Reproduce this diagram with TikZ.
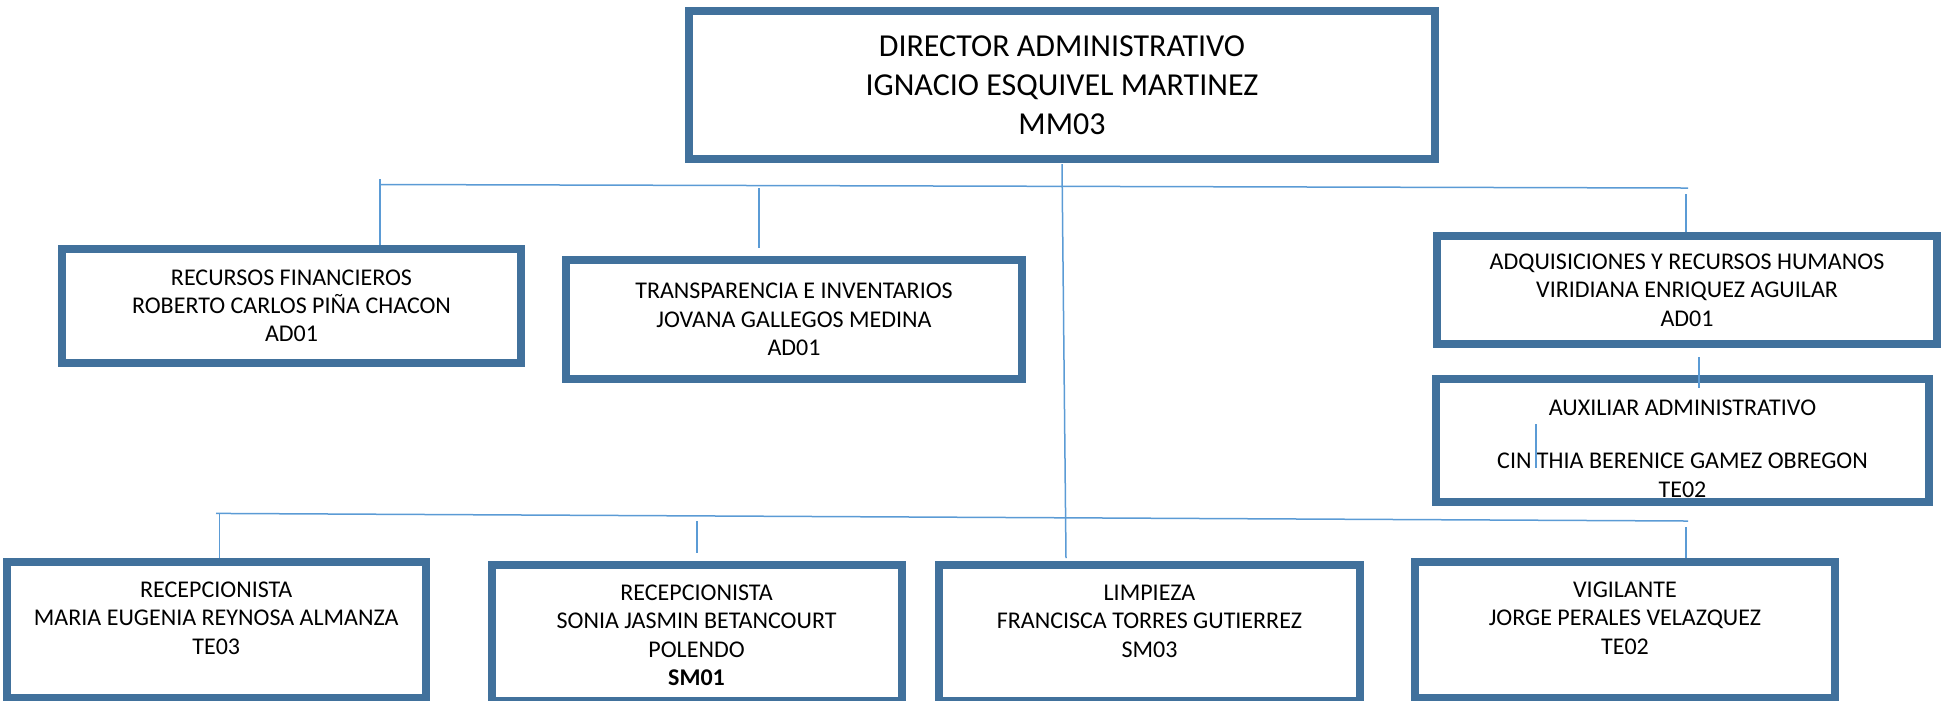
\documentclass[tikz,border=0pt]{standalone}
\usepackage{fontspec}
\setmainfont{Carlito}
\usetikzlibrary{positioning,calc}
\definecolor{boxblue}{HTML}{41719C}
\definecolor{linkblue}{HTML}{5B9BD5}
\tikzset{
  box/.style={draw=boxblue,line width=0.08cm,inner sep=0pt},
  txt/.style={align=center,inner sep=0pt,font=\fontsize{6.83}{8.1}\selectfont},
  bigtxt/.style={align=center,inner sep=0pt,font=\fontsize{9.1}{11.1}\selectfont},
  link/.style={draw=linkblue,line width=0.015cm},
}
\begin{document}
\begin{tikzpicture}
\useasboundingbox (0,0) rectangle (19.45,-7.00);

% boxes
\node[box,minimum width=7.46cm,minimum height=1.48cm] (dir) at (10.62,-0.85) {};
\node[box,minimum width=4.59cm,minimum height=1.144cm] (rf) at (2.915,-3.058) {};
\node[box,minimum width=4.56cm,minimum height=1.19cm] (ti) at (7.94,-3.195) {};
\node[box,minimum width=5.00cm,minimum height=1.08cm] (adq) at (16.87,-2.90) {};
\node[box,minimum width=4.93cm,minimum height=1.23cm] (aux) at (16.825,-4.405) {};
\node[box,minimum width=4.195cm,minimum height=1.36cm] (rec1) at (2.1625,-6.30) {};
\node[box,minimum width=4.10cm,minimum height=1.36cm] (rec2) at (6.9655,-6.33) {};
\node[box,minimum width=4.21cm,minimum height=1.36cm] (lim) at (11.495,-6.33) {};
\node[box,minimum width=4.20cm,minimum height=1.36cm] (vig) at (16.25,-6.30) {};

% texts
\node[bigtxt] (dirt) at (dir.center) {DIRECTOR ADMINISTRATIVO\\IGNACIO ESQUIVEL MARTINEZ\\MM03};
\node[txt] (rft) at (rf.center) {RECURSOS FINANCIEROS\\ROBERTO CARLOS PIÑA CHACON\\AD01};
\node[txt] (tit) at (ti.center) {TRANSPARENCIA E INVENTARIOS\\JOVANA GALLEGOS MEDINA\\AD01};
\node[txt] (adqt) at (adq.center) {ADQUISICIONES Y RECURSOS HUMANOS\\VIRIDIANA ENRIQUEZ AGUILAR\\AD01};
\node[txt,below=0.24cm of aux.north] (auxt) {AUXILIAR ADMINISTRATIVO\\[0.25cm]CIN THIA BERENICE GAMEZ OBREGON\\TE02};
\node[txt,below=0.23cm of rec1.north] (rec1t) {RECEPCIONISTA\\MARIA EUGENIA REYNOSA ALMANZA\\TE03};
\node[txt,below=0.23cm of rec2.north] (rec2t) {RECEPCIONISTA\\SONIA JASMIN BETANCOURT\\POLENDO\\\textbf{SM01}};
\node[txt,below=0.23cm of lim.north] (limt) {LIMPIEZA\\FRANCISCA TORRES GUTIERREZ\\SM03};
\node[txt,below=0.23cm of vig.north] (vigt) {VIGILANTE\\JORGE PERALES VELAZQUEZ\\TE02};

% upper bus
\coordinate (upw) at (3.80,-1.845);
\coordinate (upe) at (16.88,-1.88);
\coordinate (uptick) at (3.80,-1.79);
\coordinate (tiup) at (7.59,-1.88);
\coordinate (tidown) at (7.59,-2.48);
\coordinate (adqup) at (16.86,-1.94);
\draw[link] (upw) -- (upe);
\draw[link] (uptick) -- (uptick |- rf.north);
\draw[link] (tiup) -- (tidown);
\draw[link] (adqup) -- (adqup |- adq.north);

% adquisiciones to auxiliar
\coordinate (auxup) at (16.99,-3.57);
\coordinate (auxdown) at (16.99,-3.88);
\draw[link] (auxup) -- (auxdown);
\coordinate (auxa) at (15.36,-4.24);
\coordinate (auxb) at (15.36,-4.68);
\draw[link] (auxa) -- (auxb);

% director trunk
\coordinate (trunk) at (10.66,-5.58);
\draw[link] ($(dir.south)+(0,-0.01)$) -- (trunk);

% lower bus
\coordinate (loww) at (2.16,-5.134);
\coordinate (lowe) at (16.88,-5.21);
\coordinate (rec1up) at (2.196,-5.13);
\coordinate (rec2up) at (6.97,-5.21);
\coordinate (rec2down) at (6.97,-5.526);
\coordinate (vigup) at (16.86,-5.27);
\draw[link] (loww) -- (lowe);
\draw[link] (rec1up) -- (rec1up |- rec1.north);
\draw[link] (rec2up) -- (rec2down);
\draw[link] (vigup) -- (vigup |- vig.north);

\end{tikzpicture}
\end{document}
